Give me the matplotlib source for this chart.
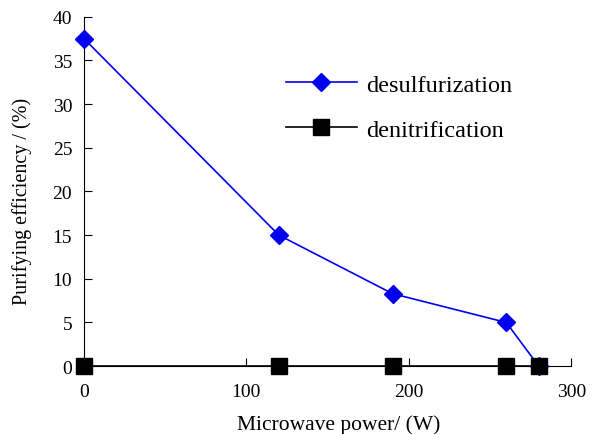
import matplotlib
matplotlib.use("Agg")
import matplotlib.pyplot as plt

power = [0, 120, 190, 260, 280]
desulfurization = [37.5, 15.0, 8.3, 5.0, 0.0]
denitrification = [0, 0, 0, 0, 0]

plt.rcParams['font.family'] = ['Liberation Serif', 'DejaVu Serif']

fig = plt.figure(figsize=(6.06, 4.35), dpi=100)
ax = fig.add_axes([0.1386, 0.156, 0.804, 0.803])

ax.plot(power, desulfurization, color='#0000ee', lw=1.2, marker='D',
        ms=9, label='desulfurization', clip_on=False, zorder=3)
ax.plot(power, denitrification, color='black', lw=1.2, marker='s',
        ms=11, label='denitrification', clip_on=False, zorder=4)

ax.set_xlim(0, 300)
ax.set_ylim(0, 40)
ax.set_xticks([0, 100, 200, 300])
ax.set_yticks(range(0, 41, 5))
ax.spines['top'].set_visible(False)
ax.spines['right'].set_visible(False)
ax.tick_params(direction='in', length=6, labelsize=14)
ax.tick_params(axis='x', pad=12)
ax.tick_params(axis='y', pad=8.5)
ax.set_xlabel('Microwave power/ (W)', fontsize=15.5, va='center')
ax.xaxis.set_label_coords(0.522, -0.166)
ax.set_ylabel('Purifying efficiency / (%)', fontsize=14.5, va='center')
ax.yaxis.set_label_coords(-0.127, 0.473)

ax.legend(loc='upper left', bbox_to_anchor=(0.37, 0.9), frameon=False,
          fontsize=17.5, handlelength=2.9, labelspacing=0.95, handletextpad=0.4)

fig.savefig('out.png', dpi=100)
